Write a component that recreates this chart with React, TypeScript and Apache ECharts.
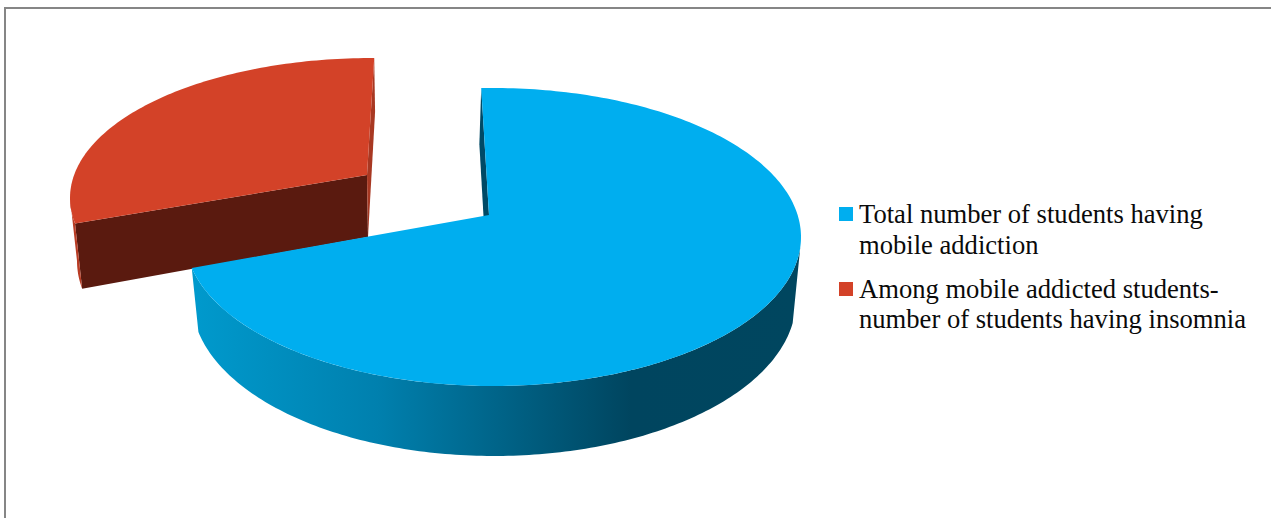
import React, { useEffect, useRef } from "react";
import * as echarts from "echarts";

const categories = [
  "Total number of students having\nmobile addiction",
  "Among mobile addicted students-\nnumber of students having insomnia",
];
const shares = [69.5, 30.5];
const topColors = ["#00AEEF", "#D34228"];

type Pt = [number, number];
type Disc = { cx: number; cy: number; rx: number; ry: number; ax: number; ay: number };

// Each slice is drawn as two perspective discs (upper and lower face) with its own offset.
// angleScale stands in for the foreshortening of the sweep under perspective.
const sliceLayout = [
  {
    rotation: -1.7,
    angleScale: 1.005,
    top: { cx: 493, cy: 237, rx: 308, ry: 149, ax: 489, ay: 215 } as Disc,
    bottom: { cx: 494, cy: 300, rx: 302, ry: 156, ax: 487, ay: 277 } as Disc,
    // outer wall runs from these ellipse parameters to the slice's closing edge
    wallTop: 93.8,
    wallBottom: 98.5,
    wallEdge: "end",
    faces: [{ edge: "start", fill: "#004A66" }],
    wallFill: () =>
      new echarts.graphic.LinearGradient(
        197, 0, 800, 0,
        [
          { offset: 0, color: "#0099CC" },
          { offset: 0.3, color: "#0080AE" },
          { offset: 0.72, color: "#00455F" },
          { offset: 1, color: "#00465F" },
        ],
        true,
      ),
    z: 10,
  },
  {
    rotation: 0.1,
    angleScale: 1.014,
    top: { cx: 372, cy: 198, rx: 302, ry: 140, ax: 367, ay: 175 } as Disc,
    bottom: { cx: 372, cy: 261, rx: 295, ry: 149, ax: 368, ay: 237 } as Disc,
    wallTop: 270,
    wallBottom: 270,
    wallEdge: "start",
    faces: [
      { edge: "start", fill: "#5A1A0F" },
      { edge: "end", fill: "#A83822" },
    ],
    wallFill: () => "#B93C24",
    z: 0,
  },
];

const rad = (d: number) => (d * Math.PI) / 180;

// Ellipse point for parameter t, measured clockwise from twelve o'clock.
const onRim = (d: Disc, t: number): Pt => [d.cx + d.rx * Math.sin(rad(t)), d.cy - d.ry * Math.cos(rad(t))];

// Casts a ray from the disc's projected centre and returns the rim parameter it lands on.
function rimParam(d: Disc, angle: number) {
  const u0 = (d.ax - d.cx) / d.rx;
  const v0 = (d.ay - d.cy) / d.ry;
  const du = Math.sin(rad(angle));
  const dv = -Math.cos(rad(angle));
  const b = u0 * du + v0 * dv;
  const c = u0 * u0 + v0 * v0 - 1;
  const s = -b + Math.sqrt(b * b - c);
  const u = u0 + s * du;
  const v = v0 + s * dv;
  return (Math.atan2(u, -v) * 180) / Math.PI;
}

function arc(d: Disc, from: number, to: number): Pt[] {
  const pts: Pt[] = [];
  const n = Math.max(2, Math.ceil(Math.abs(to - from)));
  for (let i = 0; i <= n; i++) pts.push(onRim(d, from + ((to - from) * i) / n));
  return pts;
}

const unwrap = (t: number, ref: number) => {
  let r = t;
  while (r < ref) r += 360;
  while (r >= ref + 360) r -= 360;
  return r;
};

function renderSlice(params: any, api: any) {
  const i = params.dataIndex;
  const layout = sliceLayout[i];
  const total = shares.reduce((a, b) => a + b, 0);
  const before = shares.slice(0, i).reduce((a, b) => a + b, 0);
  const value = api.value(0);
  const a0 = (before / total) * 360 + layout.rotation;
  const a1 = a0 + (value / total) * 360 * layout.angleScale;
  const { top, bottom } = layout;

  const t0 = rimParam(top, a0);
  const t1 = unwrap(rimParam(top, a1), t0);
  const b0 = rimParam(bottom, a0);
  const b1 = unwrap(rimParam(bottom, a1), b0);

  const poly = (points: Pt[], fill: any, z2: number) => ({
    type: "polygon",
    shape: { points },
    style: { fill, stroke: null },
    z2,
    silent: true,
  });

  const children: any[] = [];
  layout.faces.forEach((f, k) => {
    const tp = onRim(top, f.edge === "start" ? t0 : t1);
    const bp = onRim(bottom, f.edge === "start" ? b0 : b1);
    children.push(poly([tp, bp, [bottom.ax, bottom.ay], [top.ax, top.ay]], f.fill, layout.z + k));
  });

  // Outer wall, bounded by the silhouette line between the two discs.
  const wall =
    layout.wallEdge === "end"
      ? [...arc(top, layout.wallTop, t1), ...arc(bottom, b1, layout.wallBottom)]
      : [...arc(top, layout.wallTop, unwrap(t0, layout.wallTop - 360)), ...arc(bottom, unwrap(b0, layout.wallBottom - 360), layout.wallBottom)];
  children.push(poly(wall, layout.wallFill(), layout.z + 3));

  const face: Pt[] = [[top.ax, top.ay], ...arc(top, t0, t1)];
  children.push(poly(face, topColors[i], layout.z + 4));

  return { type: "group", children };
}

export default function App() {
  const ref = useRef<HTMLDivElement>(null);

  useEffect(() => {
    document.body.style.margin = "0";
    document.body.style.background = "#ffffff";
    const chart = echarts.init(ref.current!, null, { renderer: "svg" });
    const legendY = [207, 282];
    const textY = [199, 273.5];
    chart.setOption({
      animation: false,
      backgroundColor: "#ffffff",
      series: [
        {
          type: "custom",
          coordinateSystem: "none",
          silent: true,
          renderItem: renderSlice,
          data: shares.map((v) => [v]),
        },
      ],
      graphic: [
        {
          type: "rect",
          silent: true,
          shape: { x: 5, y: 8, width: 1400, height: 600 },
          style: { fill: "none", stroke: "#868686", lineWidth: 2 },
        },
        ...categories.flatMap((name, i) => [
          {
            type: "rect",
            silent: true,
            shape: { x: 839, y: legendY[i], width: 14, height: 14 },
            style: { fill: topColors[i] },
          },
          {
            type: "text",
            silent: true,
            x: 859,
            y: textY[i],
            style: {
              text: name,
              fill: "#0a0a0a",
              font: '26.6px "Liberation Serif", "Times New Roman", serif',
              lineHeight: 30.5,
              verticalAlign: "top",
            },
          },
        ]),
      ],
    });
    return () => chart.dispose();
  }, []);

  return <div ref={ref} style={{ width: 1271, height: 518, overflow: "hidden" }} />;
}
